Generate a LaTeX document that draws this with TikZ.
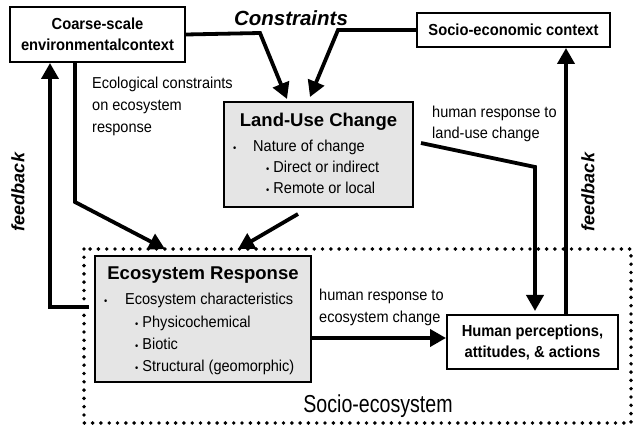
\documentclass[tikz,border=0pt]{standalone}
\usepackage{fontspec}
\setmainfont{Liberation Sans}
\newfontfamily\narrowfont{Liberation Sans}[FakeStretch=0.92]
\newfontfamily\tallfont{Liberation Sans}[FakeStretch=0.8]
\usepackage{tikz}
\usetikzlibrary{arrows.meta,positioning}

\newcommand{\bul}{{\fontsize{10}{10}\selectfont\textbullet}}

\begin{document}
\begin{tikzpicture}[x=1pt,y=-1pt,
  box/.style={draw,line width=2pt,inner sep=0pt,align=center,font=\narrowfont\fontsize{16}{21}\selectfont\bfseries},
  greybox/.style={draw,line width=2pt,fill=black!10,inner sep=0pt},
  flow/.style={line width=3.8pt,-{Triangle[length=16pt,width=17pt]}},
  txt/.style={inner sep=0pt,font=\narrowfont\fontsize{15.8}{22}\selectfont,align=left},
  head/.style={inner sep=0pt,font=\fontsize{18.5}{22}\selectfont\bfseries},
  fb/.style={inner sep=0pt,font=\fontsize{18}{22}\selectfont\bfseries\itshape}]

  \useasboundingbox (0,0) rectangle (633,425);

  % the socio-ecosystem frame
  \draw[line width=3.9pt,line cap=round,dash pattern=on 0pt off 8.3pt] (84,249) rectangle (631,423);
  \node[inner sep=0pt,font=\tallfont\fontsize{24.5}{26}\selectfont,anchor=base] (socioeco) at (378,412) {Socio-ecosystem};

  % context boxes
  \node[box,minimum width=175,minimum height=55] (coarse) at (97.5,34.5) {Coarse-scale\\environmentalcontext};
  \node[box,minimum width=193,minimum height=34] (socio) at (513.5,30) {Socio-economic context};
  \node[fb,font=\fontsize{20.5}{22}\selectfont\bfseries\itshape] (constraints) at (291,18) {Constraints};

  % land-use change
  \node[greybox,minimum width=189,minimum height=105] (landuse) at (318.5,154.5) {};
  \node[head] (lutitle) at (318.5,122) {Land-Use Change};
  \node[txt,anchor=base west] (lub1) at (233,152) {\bul};
  \node[txt,anchor=base west] (lu1) at (253,152) {Nature of change};
  \node[txt,anchor=base west] (lu2) at (266,173) {\bul\ Direct or indirect};
  \node[txt,anchor=base west] (lu3) at (266,194) {\bul\ Remote or local};

  % ecosystem response
  \node[greybox,minimum width=216,minimum height=126] (eco) at (203,319) {};
  \node[head] (ecotitle) at (203,275) {Ecosystem Response};
  \node[txt,anchor=base west] (ecob1) at (104,305) {\bul};
  \node[txt,anchor=base west] (eco1) at (125,305) {Ecosystem characteristics};
  \node[txt,anchor=base west] (eco2) at (135,327) {\bul\ Physicochemical};
  \node[txt,anchor=base west] (eco3) at (135,350) {\bul\ Biotic};
  \node[txt,anchor=base west] (eco4) at (135,371) {\bul\ Structural (geomorphic)};

  % human side
  \node[box,minimum width=171,minimum height=54] (human) at (532.5,342) {Human perceptions,\\attitudes, \& actions};

  % labels on the links
  \node[txt,anchor=north west] (ecolabel) at (92,76.5) {Ecological constraints\\on ecosystem\\response};
  \node[txt,anchor=north west,font=\narrowfont\fontsize{15.8}{21}\selectfont] (lulabel) at (432,105.5) {human response to\\land-use change};
  \node[txt,anchor=north west] (humlabel) at (319,288.5) {human response to\\ecosystem change};
  \node[fb,rotate=90] (fbleft) at (18,192) {feedback};
  \node[fb,rotate=90] (fbright) at (588,192) {feedback};

  % constraints on land use
  \draw[flow] (coarse.east) -- (260,33) -- ([xshift=-31.5pt,yshift=2pt]landuse.north);
  \draw[flow] (socio.west) -- (338,30) -- ([xshift=-8.5pt,yshift=4pt]landuse.north);

  % towards the ecosystem
  \draw[flow] ([xshift=-22.5pt]coarse.south) -- (75,202) -- ([xshift=-38pt,yshift=6pt]eco.north);
  \draw[flow] ([xshift=-20.5pt,yshift=-6pt]landuse.south) -- ([xshift=35pt,yshift=6pt]eco.north);

  % towards people
  \draw[flow] ([xshift=7pt,yshift=11.5pt]landuse.east) -- (535,167) -- ([xshift=2.5pt,yshift=3pt]human.north);
  \draw[flow] ([yshift=-19pt]eco.east) -- ([yshift=4pt]human.west);

  % feedback loops
  \draw[flow] ([xshift=33.5pt]human.north) -- ([xshift=52.5pt]socio.south);
  \draw[flow] ([yshift=12pt,xshift=-5pt]eco.west) -- (50,307) -- ([xshift=-47.5pt]coarse.south);
\end{tikzpicture}
\end{document}
